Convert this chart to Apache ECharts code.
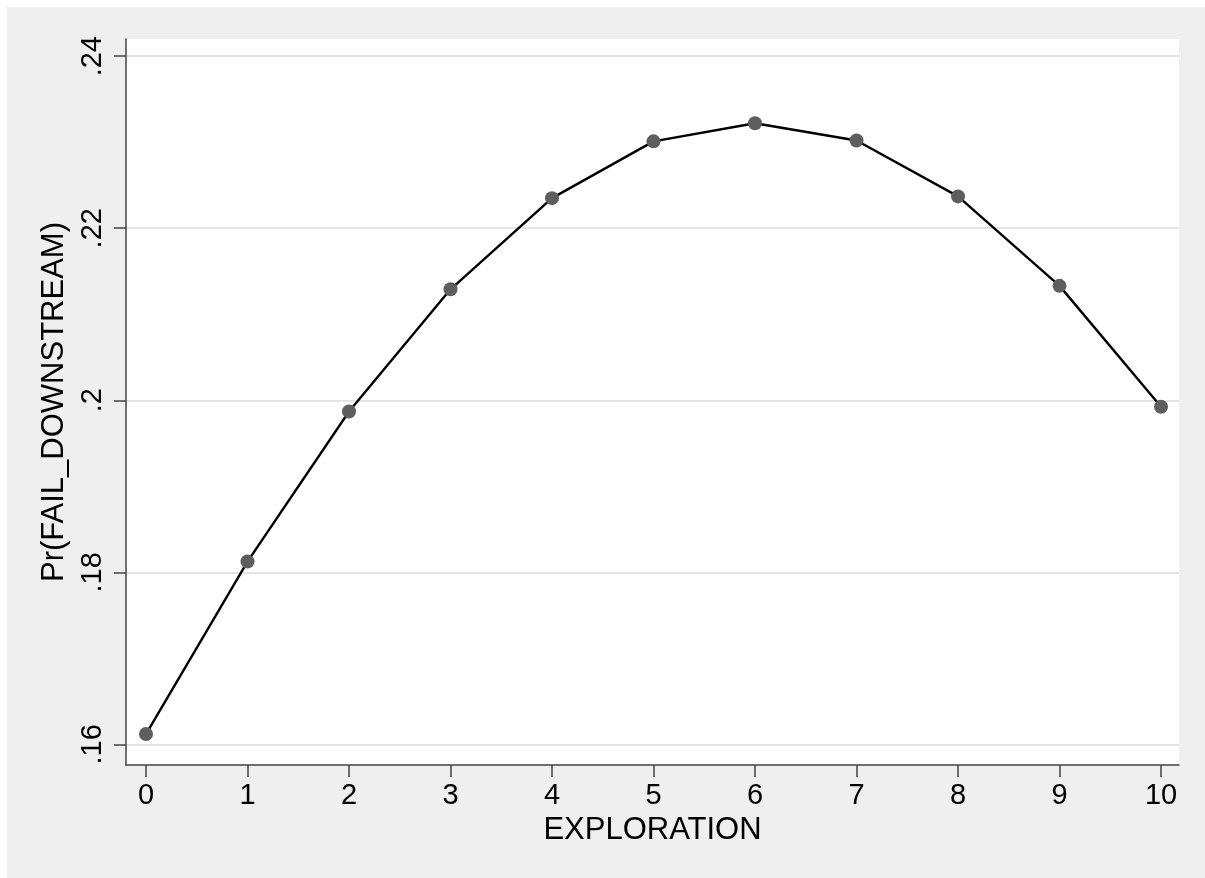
<!DOCTYPE html>
<html>
<head>
<meta charset="utf-8">
<script src="https://cdn.jsdelivr.net/npm/echarts@6/dist/echarts.min.js"></script>
<style>
  html, body { margin: 0; padding: 0; background: #ffffff; }
  #chart { position: absolute; left: 7px; top: 7px; width: 1198px; height: 871px; background: #efefef; }
</style>
</head>
<body>
<div id="chart"></div>
<script>
// Data
var exploration = [0, 1, 2, 3, 4, 5, 6, 7, 8, 9, 10];
var prFailDownstream = [0.1612, 0.18125, 0.1987, 0.2129, 0.2235, 0.2301, 0.2322, 0.2302, 0.2237, 0.2133, 0.19925];
var xTickValues = [0, 1, 2, 3, 4, 5, 6, 7, 8, 9, 10];
var yTickValues = [0.16, 0.18, 0.2, 0.22, 0.24];

var FONT = '"Liberation Sans", Arial, sans-serif';

var chart = echarts.init(document.getElementById('chart'), null, { renderer: 'canvas' });
chart.setOption({
  backgroundColor: '#efefef',
  animation: false,
  grid: {
    left: 119, top: 32, right: 26, bottom: 113,
    show: true, backgroundColor: '#ffffff', borderWidth: 0
  },
  xAxis: {
    type: 'value',
    min: -0.197, max: 10.177,
    name: 'EXPLORATION',
    nameLocation: 'middle',
    nameGap: 46,
    nameTextStyle: { fontFamily: FONT, fontSize: 31, color: '#000' },
    axisLine: { show: true, onZero: false, lineStyle: { color: '#444', width: 1.5 } },
    axisTick: { show: true, length: 12, customValues: xTickValues, lineStyle: { color: '#444', width: 1.5 } },
    axisLabel: { customValues: xTickValues, fontFamily: FONT, fontSize: 29, color: '#000', margin: 16 },
    splitLine: { show: false }
  },
  yAxis: {
    type: 'value',
    min: 0.1576, max: 0.242,
    name: 'Pr(FAIL_DOWNSTREAM)',
    nameLocation: 'middle',
    nameGap: 54,
    nameTextStyle: { fontFamily: FONT, fontSize: 31, color: '#000' },
    axisLine: { show: true, onZero: false, lineStyle: { color: '#444', width: 1.5 } },
    axisTick: { show: true, length: 12, customValues: yTickValues, lineStyle: { color: '#444', width: 1.5 } },
    axisLabel: {
      customValues: yTickValues, rotate: 90, fontFamily: FONT, fontSize: 29, color: '#000', margin: 19,
      formatter: function (v) { return String(+v.toFixed(4)).replace(/^0/, ''); }
    },
    splitLine: { show: true, lineStyle: { color: '#e4e4e4', width: 2 } }
  },
  series: [{
    type: 'line',
    data: exploration.map(function (x, i) { return [x, prFailDownstream[i]]; }),
    lineStyle: { color: '#000', width: 2.4 },
    symbol: 'circle',
    symbolSize: 14,
    itemStyle: { color: '#5e5e5e', borderWidth: 0 },
    z: 3
  }]
});
</script>
</body>
</html>
